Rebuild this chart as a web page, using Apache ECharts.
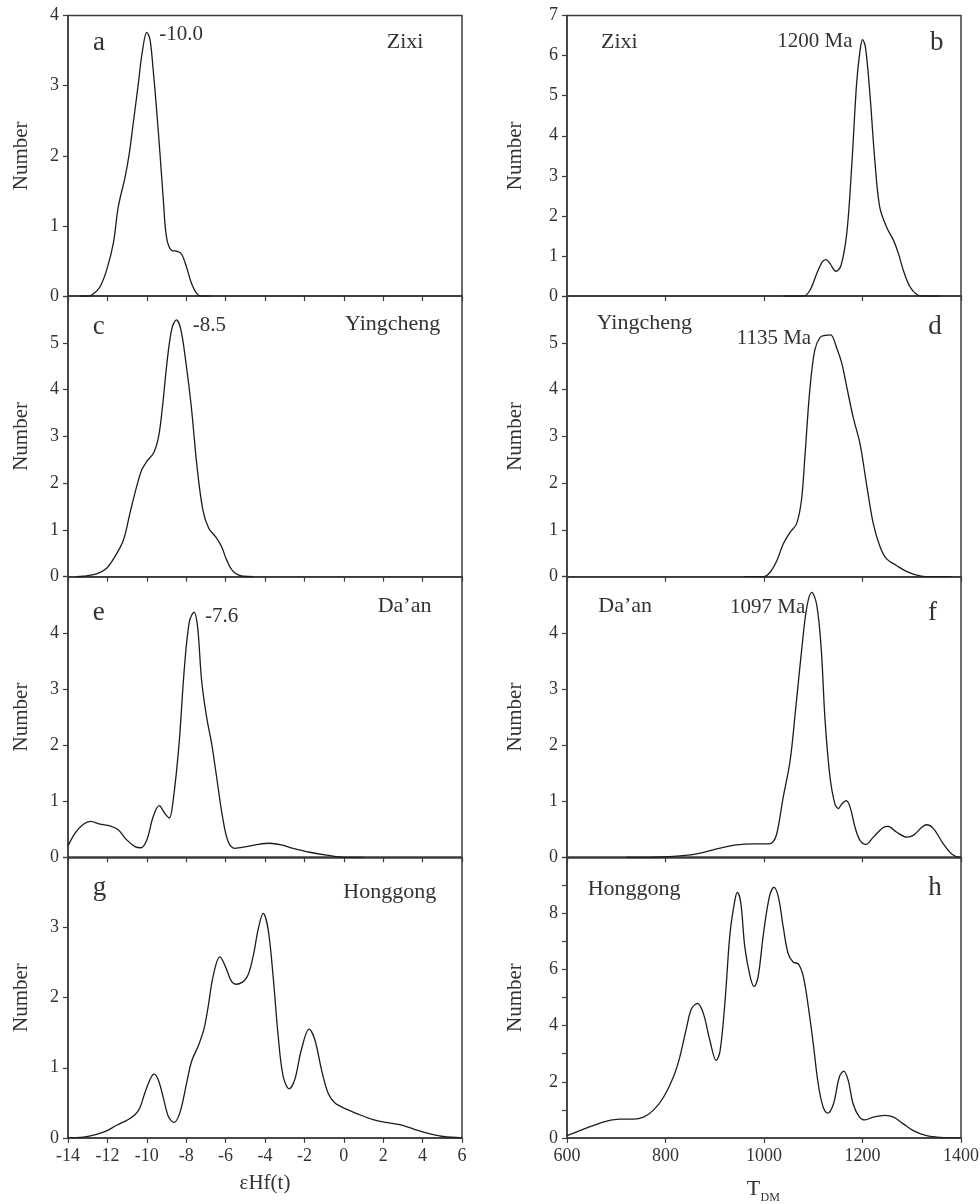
<!DOCTYPE html>
<html>
<head>
<meta charset="utf-8">
<title>εHf(t) and TDM distributions</title>
<script src="https://cdn.jsdelivr.net/npm/echarts@6/dist/echarts.min.js"></script>
<style>
  html, body { margin: 0; padding: 0; background: #fff; }
  #chart { width: 980px; height: 1204px; }
</style>
</head>
<body>
<div id="chart"></div>
<script>
// Probability curves: [x, number] pairs
const zixiEhf = [[-13.4,0],[-12.97,0.0],[-12.72,0.03],[-12.38,0.13],[-12.04,0.37],[-11.7,0.75],[-11.45,1.27],[-11.1,1.70],[-10.89,2.03],[-10.69,2.46],[-10.43,3.03],[-10.24,3.46],[-10.0,3.76],[-9.84,3.66],[-9.69,3.27],[-9.5,2.65],[-9.33,2.03],[-9.16,1.37],[-9.0,0.84],[-8.74,0.65],[-8.49,0.64],[-8.24,0.60],[-7.98,0.41],[-7.73,0.18],[-7.47,0.04],[-7.22,0.0],[-6.8,0]];
const zixiTdm = [[1040,0],[1080,0],[1093,0.14],[1107,0.56],[1118,0.85],[1126,0.91],[1134,0.81],[1146,0.62],[1156,0.75],[1168,1.56],[1178,3.22],[1188,5.30],[1195,6.13],[1200,6.40],[1206,6.21],[1215,5.05],[1225,3.39],[1235,2.22],[1249,1.72],[1263,1.39],[1273,1.06],[1283,0.64],[1297,0.22],[1313,0.02],[1324,0],[1360,0]];
const yingchengEhf = [[-13.6,0],[-13.22,0.01],[-12.55,0.06],[-12.04,0.18],[-11.62,0.43],[-11.19,0.78],[-10.86,1.35],[-10.52,1.92],[-10.26,2.28],[-10.01,2.46],[-9.65,2.65],[-9.4,3.0],[-9.2,3.65],[-8.97,4.6],[-8.73,5.3],[-8.5,5.49],[-8.28,5.3],[-8.03,4.63],[-7.74,3.63],[-7.45,2.35],[-7.15,1.42],[-6.85,1.03],[-6.5,0.85],[-6.2,0.64],[-5.95,0.36],[-5.61,0.11],[-5.1,0.01],[-4.6,0]];
const yingchengTdm = [[960,0],[999,0],[1012,0.09],[1026,0.34],[1039,0.70],[1053,0.95],[1066,1.13],[1076,1.63],[1083,2.56],[1093,3.99],[1103,4.84],[1114,5.12],[1124,5.16],[1135,5.17],[1148,4.88],[1158,4.56],[1168,4.06],[1181,3.41],[1195,2.84],[1208,1.99],[1222,1.13],[1236,0.63],[1249,0.38],[1269,0.24],[1290,0.11],[1317,0.02],[1344,0],[1380,0]];
const daanEhf = [[-14,0.20],[-13.64,0.43],[-13.22,0.59],[-12.85,0.64],[-12.38,0.59],[-11.87,0.56],[-11.45,0.49],[-11.02,0.31],[-10.6,0.19],[-10.31,0.17],[-10.0,0.31],[-9.67,0.73],[-9.37,0.92],[-9.08,0.78],[-8.86,0.70],[-8.66,1.02],[-8.36,2.03],[-8.1,3.34],[-7.84,4.2],[-7.6,4.37],[-7.42,4.1],[-7.22,3.16],[-6.97,2.51],[-6.71,2.03],[-6.46,1.44],[-6.16,0.73],[-5.87,0.28],[-5.53,0.16],[-4.94,0.19],[-4.35,0.23],[-3.76,0.25],[-3.16,0.22],[-2.57,0.16],[-1.73,0.09],[-0.88,0.04],[0.13,0],[1.0,0]];
const daanTdm = [[720,0],[769,0],[823,0.02],[863,0.06],[904,0.15],[944,0.22],[978,0.24],[1010,0.24],[1018,0.27],[1026,0.42],[1039,1.07],[1053,1.72],[1064,2.62],[1077,3.74],[1087,4.46],[1097,4.72],[1107,4.50],[1116,3.74],[1124,2.44],[1134,1.43],[1144,0.95],[1151,0.87],[1158,0.95],[1167,1.01],[1175,0.89],[1185,0.53],[1195,0.30],[1207,0.23],[1222,0.36],[1242,0.53],[1252,0.55],[1269,0.45],[1290,0.36],[1303,0.39],[1320,0.53],[1330,0.58],[1344,0.51],[1364,0.24],[1381,0.06],[1398,0],[1400,0]];
const honggongEhf = [[-14,0],[-13.22,0.01],[-12.55,0.05],[-12.04,0.10],[-11.53,0.18],[-11.02,0.25],[-10.6,0.33],[-10.35,0.43],[-10.1,0.64],[-9.84,0.83],[-9.64,0.91],[-9.42,0.83],[-9.16,0.57],[-8.91,0.31],[-8.62,0.22],[-8.32,0.36],[-7.98,0.78],[-7.73,1.09],[-7.39,1.31],[-7.1,1.55],[-6.88,1.88],[-6.63,2.31],[-6.29,2.58],[-5.99,2.43],[-5.7,2.23],[-5.45,2.19],[-4.94,2.28],[-4.6,2.59],[-4.35,2.97],[-4.09,3.20],[-3.84,2.97],[-3.59,2.31],[-3.33,1.45],[-3.08,0.88],[-2.77,0.70],[-2.49,0.83],[-2.15,1.26],[-1.76,1.55],[-1.47,1.40],[-1.13,0.97],[-0.8,0.64],[-0.46,0.50],[0.13,0.41],[0.81,0.33],[1.49,0.26],[2.16,0.22],[2.84,0.19],[3.52,0.13],[4.19,0.07],[5.04,0.02],[6,0]];
const honggongTdm = [[600,0.08],[626,0.26],[653,0.44],[681,0.60],[708,0.67],[735,0.67],[755,0.74],[775,0.98],[796,1.45],[816,2.17],[829,2.88],[843,3.95],[853,4.61],[865,4.79],[877,4.43],[890,3.48],[903,2.76],[911,3.12],[921,4.90],[931,7.29],[941,8.48],[946,8.75],[953,8.36],[961,6.81],[972,5.74],[980,5.40],[988,5.74],[999,7.29],[1011,8.60],[1020,8.93],[1029,8.60],[1039,7.52],[1049,6.57],[1059,6.27],[1070,6.19],[1080,5.74],[1090,4.67],[1100,3.36],[1110,1.93],[1120,1.10],[1129,0.88],[1141,1.21],[1153,2.17],[1162,2.38],[1171,2.05],[1181,1.21],[1194,0.74],[1205,0.64],[1222,0.74],[1246,0.80],[1263,0.74],[1283,0.50],[1303,0.26],[1330,0.08],[1357,0.02],[1400,0]];

// Panel identifiers, localities and peak annotations
const panelLetters = ['a','b','c','d','e','f','g','h'];
const localities = ['Zixi','Zixi','Yingcheng','Yingcheng','Da\u2019an','Da\u2019an','Honggong','Honggong'];
const peakLabels = ['-10.0','1200 Ma','-8.5','1135 Ma','-7.6','1097 Ma',null,null];
const yMax = [4, 7, 6, 6, 5, 5, 4, 10];

// Axis ranges
const ehfRange = { min: -14, max: 6, interval: 2 };
const tdmRange = { min: 600, max: 1400, interval: 200 };

const curves = [zixiEhf, zixiTdm, yingchengEhf, yingchengTdm, daanEhf, daanTdm, honggongEhf, honggongTdm];

const FONT = '"Liberation Serif", "Times New Roman", serif';
const TEXT = '#333';
const AXIS = '#3d3d3d';

const colLeft = [68, 567];
const plotW = 394;
const rowTop0 = 15.5;
const rowH = 280.6;

const grids = [], xAxes = [], yAxes = [], series = [];
for (let i = 0; i < 8; i++) {
  const col = i % 2, row = Math.floor(i / 2);
  const rng = col === 0 ? ehfRange : tdmRange;
  const top = rowTop0 + row * rowH;
  grids.push({
    left: colLeft[col], top: top, width: plotW, height: rowH,
    containLabel: false, outerBoundsMode: 'none',
    show: true, borderColor: AXIS, borderWidth: 1.5, backgroundColor: 'transparent'
  });
  xAxes.push({
    type: 'value', gridIndex: i, min: rng.min, max: rng.max, interval: rng.interval,
    axisLine: { show: true, onZero: false, lineStyle: { color: AXIS, width: 1.5 } },
    axisTick: { show: true, length: 5, lineStyle: { color: AXIS, width: 1.2 } },
    axisLabel: {
      show: row === 3, margin: 9, color: TEXT, fontFamily: FONT, fontSize: 18,
      formatter: function (v) { return String(v); }
    },
    splitLine: { show: false }
  });
  const m = yMax[i];
  yAxes.push({
    type: 'value', gridIndex: i, min: 0, max: m, interval: 1,
    axisLine: { show: true, onZero: false, lineStyle: { color: AXIS, width: 1.5 } },
    axisTick: { show: true, length: 5, lineStyle: { color: AXIS, width: 1.2 } },
    axisLabel: {
      margin: 9, color: TEXT, fontFamily: FONT, fontSize: 18,
      showMaxLabel: true,
      formatter: function (v) {
        if (m === 10) return (v % 2 === 0 && v !== 10) ? String(v) : '';
        if (v === m && row > 0) return '';
        return String(v);
      }
    },
    splitLine: { show: false }
  });
  series.push({
    type: 'line', xAxisIndex: i, yAxisIndex: i, data: curves[i],
    smooth: 0.35, showSymbol: false, symbol: 'none', clip: true,
    lineStyle: { color: '#1c1c1c', width: 1.3 }, silent: true
  });
}

// Annotation placements (left edge x, middle y)
const letterPos = [[93,42.5],[930,42.5],[92.7,326.8],[928.3,326.8],[92.7,612.5],[928,612.5],[92.7,887.5],[928.3,888]];
const localityPos = [[386.7,42.5],[601,42.5],[345,324.2],[596.7,323.2],[377.7,606.5],[598.3,605.8],[343.3,891.8],[587.7,889.2]];
const peakPos = [[159.3,34.6],[777.3,41.9],[192.7,325.6],[736.7,338.9],[205,616.2],[730,607.2]];

function txt(x, y, s, size, extra) {
  return Object.assign({
    type: 'text', x: x, y: y, silent: true,
    style: { text: s, fontFamily: FONT, fontSize: size, fill: TEXT, align: 'left', verticalAlign: 'middle' }
  }, extra || {});
}

const graphics = [];
for (let i = 0; i < 8; i++) {
  graphics.push(txt(letterPos[i][0], letterPos[i][1], panelLetters[i], 27));
  graphics.push(txt(localityPos[i][0], localityPos[i][1], localities[i], 22));
  if (peakLabels[i]) graphics.push(txt(peakPos[i][0], peakPos[i][1], peakLabels[i], 21));
  const col = i % 2, row = Math.floor(i / 2);
  const g = txt(col === 0 ? 21.5 : 515.5, rowTop0 + row * rowH + rowH / 2, 'Number', 21, { rotation: Math.PI / 2 });
  g.style.align = 'center';
  graphics.push(g);
}
// Axis titles
const ehfTitle = txt(265, 1183.5, '\u03B5Hf(t)', 21);
ehfTitle.style.align = 'center';
graphics.push(ehfTitle);
graphics.push(txt(746.7, 1189, 'T', 22));
graphics.push(txt(760.5, 1197.5, 'DM', 12));

const chart = echarts.init(document.getElementById('chart'), null, { renderer: 'canvas' });
chart.setOption({
  animation: false,
  backgroundColor: '#fff',
  grid: grids,
  xAxis: xAxes,
  yAxis: yAxes,
  series: series,
  graphic: graphics
});
</script>
</body>
</html>
